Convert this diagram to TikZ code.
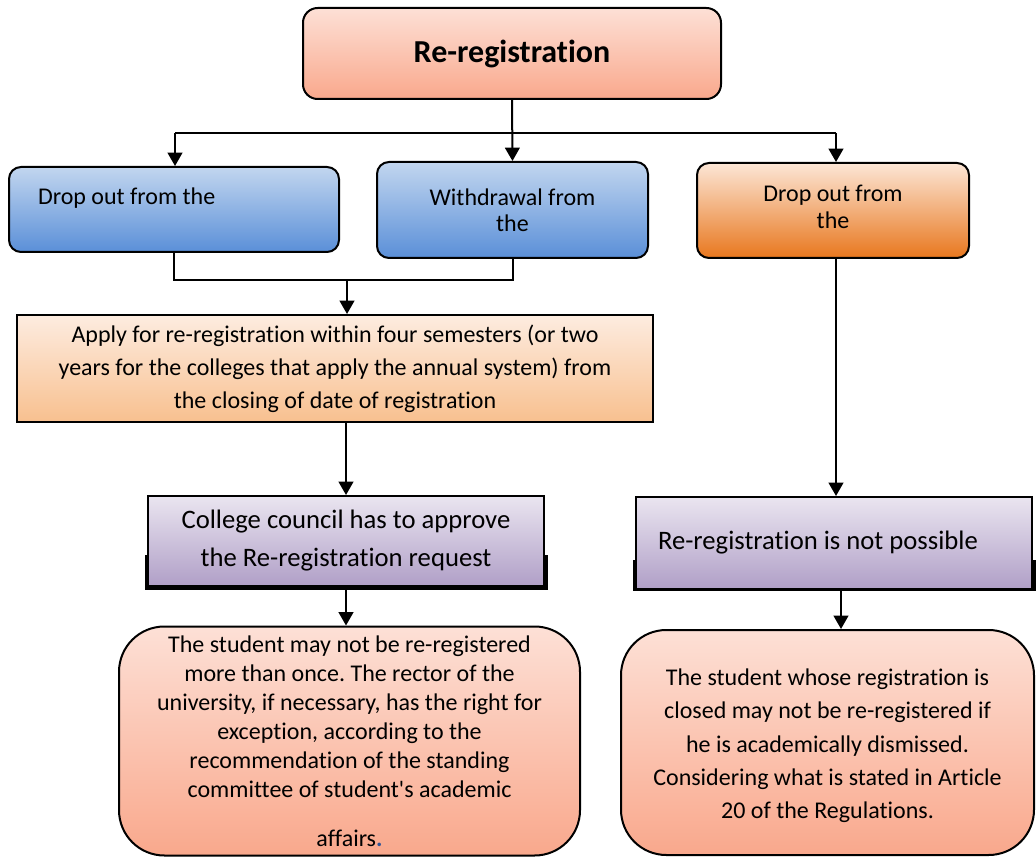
\documentclass[tikz,border=0pt]{standalone}
\usepackage{fontspec}
\setmainfont{Carlito}[Ligatures=NoCommon]
\usetikzlibrary{arrows.meta}
\newdimen\pxu \pxu=0.75pt
\definecolor{pinkT}{HTML}{FDE0D6}
\definecolor{pinkB}{HTML}{F9A88C}
\definecolor{blueT}{HTML}{C2D6EF}
\definecolor{blueB}{HTML}{5A8FD8}
\definecolor{orT}{HTML}{FCE6D6}
\definecolor{orB}{HTML}{E8771E}
\definecolor{apT}{HTML}{FDECE0}
\definecolor{apB}{HTML}{F8C08F}
\definecolor{puT}{HTML}{EAE5F0}
\definecolor{puB}{HTML}{B09FC7}
\definecolor{dotblue}{HTML}{2F5597}
\frenchspacing
\begin{document}
\begin{tikzpicture}[x=0.75pt,y=-0.75pt,
  box/.style={draw=black, line width=1.5pt, inner sep=0pt, align=center},
  arr/.style={line width=1.5pt, -{Triangle[width=11pt,length=10pt]}},
  ln/.style={line width=1.5pt}]
\useasboundingbox (0,0) rectangle (1036,859);

% top
\node[box, rounded corners=11pt, top color=pinkT, bottom color=pinkB,
  minimum width=418\pxu, minimum height=91\pxu] (top) at (512,53.5)
  {\fontsize{24}{28}\selectfont\bfseries Re-registration};

% row 2
\node[box, rounded corners=9pt, top color=blueT, bottom color=blueB,
  minimum width=330\pxu, minimum height=85\pxu, align=flush left,
  inner xsep=29\pxu, text width=272\pxu,
  font=\fontsize{18}{20}\selectfont] (b1) at (174,209.5)
  {Drop out from the\\\mbox{}};
\node[box, rounded corners=9pt, top color=blueT, bottom color=blueB,
  minimum width=271\pxu, minimum height=96\pxu,
  font=\fontsize{18}{19.5}\selectfont] (b2) at (512.5,210)
  {Withdrawal from\\the};
\node[box, rounded corners=9pt, top color=orT, bottom color=orB,
  minimum width=272\pxu, minimum height=95\pxu,
  font=\fontsize{18}{20}\selectfont] (b3) at (833,210.5)
  {Drop out from\\the\\[-14pt]\mbox{}};

% apply
\node[box, top color=apT, bottom color=apB,
  minimum width=636\pxu, minimum height=107\pxu,
  font=\fontsize{18}{24.75}\selectfont] (ap) at (335,368.5)
  {Apply for re-registration within four semesters (or two\\
   years for the colleges that apply the annual system) from\\
   the closing of date of registration};

% purple boxes with shadow
\fill[black] (145,555) rectangle (548,590);
\node[box, top color=puT, bottom color=puB,
  minimum width=396\pxu, minimum height=90\pxu,
  font=\fontsize{20}{28.5}\selectfont] (p1) at (346,541)
  {College council has to approve\\the Re-registration request};
\fill[black] (633,560) rectangle (1036,591);
\node[box, top color=puT, bottom color=puB,
  minimum width=396\pxu, minimum height=92\pxu, align=flush left,
  inner xsep=22\pxu, text width=352\pxu,
  font=\fontsize{20}{24}\selectfont] (p2) at (834,543)
  {Re-registration is not possible};

% bottom boxes
\node[box, rounded corners=34pt, top color=pinkT, bottom color=pinkB,
  minimum width=461\pxu, minimum height=229\pxu,
  font=\fontsize{18}{21.75}\selectfont] (bl) at (349.5,741)
  {The student may not be re-registered\\
   more than once. The rector of the\\
   university, if necessary, has the right for\\
   exception, according to the\\
   recommendation of the standing\\
   committee of student\textquotesingle s academic\\[15pt]
   affairs{\color{dotblue}\bfseries.}};
\node[box, rounded corners=34pt, top color=pinkT, bottom color=pinkB,
  minimum width=413\pxu, minimum height=225\pxu] (br) at (827.5,742.5) {};
\node[align=center, inner sep=0pt, font=\fontsize{18}{25}\selectfont]
  (brt) at (827.5,746)
  {The student whose registration is\\
   closed may not be re-registered if\\
   he is academically dismissed.\\
   Considering what is stated in Article\\
   20 of the Regulations.};

% connectors
\coordinate (j1) at (175,133);
\coordinate (j3) at (836,133);
\draw[ln] (j1) -- (j3);
\draw[arr] (top.south) -- (b2.north);
\draw[arr] (j1) -- (j1 |- b1.north);
\draw[arr] (j3) -- (j3 |- b3.north);
\coordinate (m) at (347,280);
\draw[ln] (b1.south) -- (b1.south |- m) -| (b2.south);
\draw[arr] (m) -- (m |- ap.north);
\draw[arr] (p1.north |- ap.south) -- (p1.north);
\draw[arr] (p1.south) -- (p1.south |- bl.north);
\coordinate (r1) at (836,258);
\draw[arr] (r1) -- (r1 |- p2.north);
\coordinate (r2) at (841,590);
\draw[arr] (r2) -- (r2 |- br.north);
\end{tikzpicture}
\end{document}
